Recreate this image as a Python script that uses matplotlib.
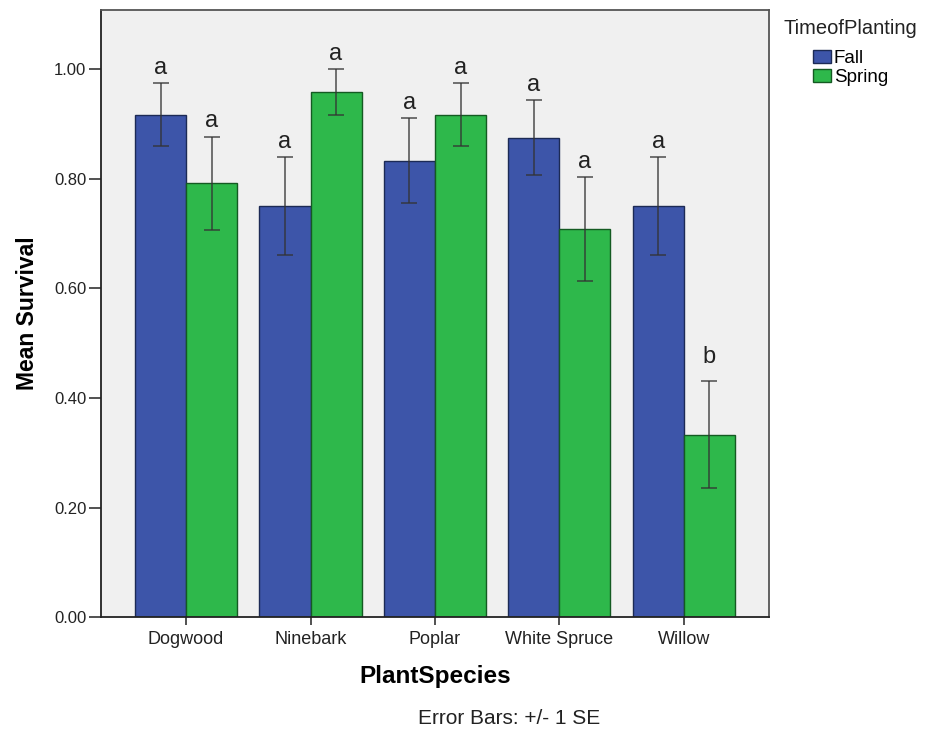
import matplotlib.pyplot as plt
import numpy as np

plt.rcParams["font.family"] = ["Liberation Sans", "DejaVu Sans"]

species = ["Dogwood", "Ninebark", "Poplar", "White Spruce", "Willow"]
fall_mean = [0.917, 0.750, 0.833, 0.875, 0.750]
fall_se = [0.058, 0.089, 0.078, 0.068, 0.089]
spring_mean = [0.792, 0.958, 0.917, 0.708, 0.333]
spring_se = [0.085, 0.042, 0.058, 0.095, 0.098]
fall_letters = ["a", "a", "a", "a", "a"]
spring_letters = ["a", "a", "a", "a", "b"]

blue = "#3d55a9"
green = "#2eb84b"

fig = plt.figure(figsize=(9.27, 7.32), dpi=100)
ax = fig.add_axes([0.109, 0.157, 0.7205, 0.8293])
ax.set_facecolor("#f0f0f0")

x = np.arange(len(species))
w = 0.41

ax.bar(x - w / 2, fall_mean, w, color=blue, edgecolor="#1c2a55", linewidth=1, label="Fall", zorder=2)
ax.bar(x + w / 2, spring_mean, w, color=green, edgecolor="#145a22", linewidth=1, label="Spring", zorder=2)

err_kw = dict(fmt="none", ecolor="#333333", elinewidth=1.2, capsize=6, capthick=1.2, alpha=0.8, zorder=3)
ax.errorbar(x - w / 2, fall_mean, yerr=fall_se, **err_kw)
ax.errorbar(x + w / 2, spring_mean, yerr=spring_se, **err_kw)

# significance letters above the error bars
for i in range(len(species)):
    ax.annotate(fall_letters[i], (x[i] - w / 2, fall_mean[i] + fall_se[i]),
                xytext=(0, 3), textcoords="offset points", ha="center", va="bottom",
                fontsize=17, color="#222222")
    off = 9 if spring_letters[i] == "b" else 3
    ax.annotate(spring_letters[i], (x[i] + w / 2, spring_mean[i] + spring_se[i]),
                xytext=(0, off), textcoords="offset points", ha="center", va="bottom",
                fontsize=17, color="#222222")

ax.set_xlim(-0.683, 4.683)
ax.set_ylim(0, 1.108)
ax.set_yticks([0, 0.2, 0.4, 0.6, 0.8, 1.0])
ax.set_yticklabels(["0.00", "0.20", "0.40", "0.60", "0.80", "1.00"])
ax.set_xticks(x)
ax.set_xticklabels(species)
ax.tick_params(axis="y", labelsize=12, length=8.5, width=1.2, color="#333333", labelcolor="#222222", pad=2)
ax.tick_params(axis="x", labelsize=13, length=6, width=1.2, color="#333333", labelcolor="#222222", pad=4)
for s in ax.spines.values():
    s.set_color("#555555")
    s.set_linewidth(1.3)
ax.spines["left"].set_color("#222222")
ax.spines["bottom"].set_color("#222222")

ax.set_ylabel("Mean Survival", fontsize=16.5, fontweight="bold", labelpad=11)
ax.set_xlabel("PlantSpecies", fontsize=17.5, fontweight="bold", labelpad=12)

fig.text(0.549, 0.019, "Error Bars: +/- 1 SE", ha="center", va="center", fontsize=15, color="#222222")

# legend title drawn separately so the entries sit indented below it
fig.text(783 / 927, 1 - 28 / 732, "TimeofPlanting", ha="left", va="center", fontsize=14.5, color="#222222")
ax.legend(loc="upper left", bbox_to_anchor=(813 / 927, 1 - 50 / 732), bbox_transform=fig.transFigure,
          frameon=False, fontsize=13.5, borderpad=0, borderaxespad=0,
          handlelength=0.95, handleheight=0.7, handletextpad=0.15, labelspacing=0.1)

fig.savefig("out.png", dpi=100)
